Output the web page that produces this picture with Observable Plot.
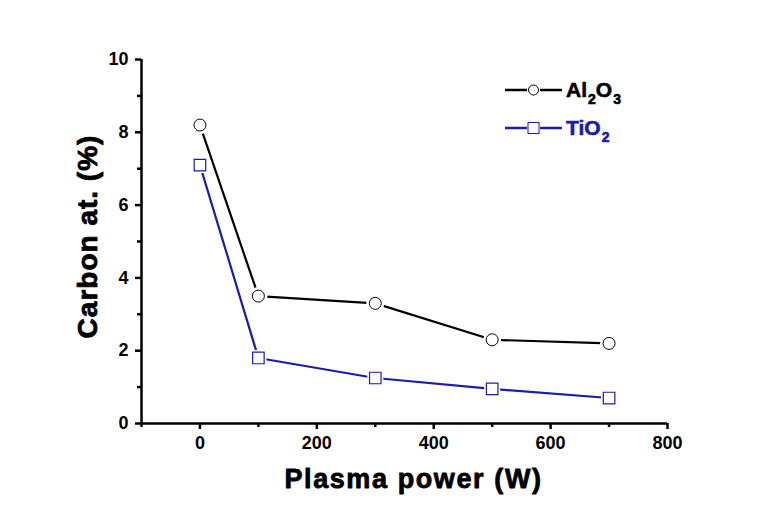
<!DOCTYPE html>
<html><head><meta charset="utf-8">
<script src="https://cdn.jsdelivr.net/npm/d3@7"></script>
<script src="https://cdn.jsdelivr.net/npm/@observablehq/plot@0.6"></script>
<style>
body{margin:0;background:#fff;}
#wrap{position:relative;width:775px;height:509px;}
#legend{position:absolute;left:0;top:0;font-family:"Liberation Sans",Arial,sans-serif;font-weight:bold;}
</style>
</head><body>
<div id="wrap"><div id="chart"></div><svg id="legend" width="775" height="509"></svg></div>
<script>
const power = [0, 100, 300, 500, 700];
const al2o3 = [8.2, 3.5, 3.3, 2.3, 2.2];
const tio2 = [7.1, 1.8, 1.25, 0.95, 0.7];
const xMajor = [0, 200, 400, 600, 800];
const xMinor = [-100, 100, 300, 500, 700];
const yMajor = [0, 2, 4, 6, 8, 10];
const yMinor = [1, 3, 5, 7, 9];
const blue = "#1c1ca6";

const dA = power.map((p, i) => ({x: p, y: al2o3[i]}));
const dT = power.map((p, i) => ({x: p, y: tio2[i]}));

const font = "'Liberation Sans', Arial, sans-serif";
const chart = Plot.plot({
  width: 775, height: 509,
  marginLeft: 141, marginTop: 59, marginBottom: 86, marginRight: 108,
  style: {fontFamily: font, fontWeight: "bold", background: "#fff", color: "#000"},
  x: {domain: [-100, 800]},
  y: {domain: [0, 10]},
  marks: [
    Plot.axisX({ticks: xMajor, tickSize: 6, tickPadding: 7, fontSize: 18, fontWeight: "bold", strokeWidth: 2.5, label: null}),
    Plot.axisX({ticks: xMinor, tickSize: 4, tickFormat: () => "", strokeWidth: 2.5, label: null}),
    Plot.axisY({ticks: yMajor, tickSize: 6, tickPadding: 7, fontSize: 18, fontWeight: "bold", strokeWidth: 2.5, label: null}),
    Plot.axisY({ticks: yMinor, tickSize: 4, tickFormat: () => "", strokeWidth: 2.5, label: null}),
    Plot.ruleY([0], {stroke: "#000", strokeWidth: 2.5}),
    Plot.ruleX([-100], {stroke: "#000", strokeWidth: 2.5}),
    Plot.line(dA, {x: "x", y: "y", stroke: "#000", strokeWidth: 2.2}),
    Plot.line(dT, {x: "x", y: "y", stroke: blue, strokeWidth: 2.2}),
    Plot.dot(dA, {x: "x", y: "y", r: 9, fill: "#fff", stroke: "none"}),
    Plot.dot(dT, {x: "x", y: "y", r: 9, fill: "#fff", stroke: "none", symbol: "square"}),
    Plot.dot(dA, {x: "x", y: "y", r: 6, fill: "#fff", stroke: "#000", strokeWidth: 1}),
    Plot.dot(dT, {x: "x", y: "y", r: 6.5, fill: "#fff", stroke: blue, strokeWidth: 1.2, symbol: "square"}),
    Plot.text(["Plasma power (W)"], {frameAnchor: "bottom", dy: 56, dx: 9, fontSize: 27, fontWeight: "bold", lineAnchor: "middle", textAnchor: "middle", fill: "#000", stroke: "#000", strokeWidth: 0.8}),
    Plot.text(["Carbon at. (%)"], {frameAnchor: "left", dx: -53, dy: -5, rotate: -90, fontSize: 28, fontWeight: "bold", lineAnchor: "middle", textAnchor: "middle", fill: "#000", stroke: "#000", strokeWidth: 0.8})
  ]
});
document.getElementById("chart").appendChild(chart);
d3.select(chart).selectAll("text").filter(function(){return this.textContent === "Plasma power (W)";}).style("letter-spacing", "1.6px");
d3.select(chart).selectAll("text").filter(function(){return this.textContent === "Carbon at. (%)";}).style("letter-spacing", "1px");

// legend
const legendItems = [
  {name: ["Al", "2", "O", "3"], color: "#000", symbol: "circle"},
  {name: ["TiO", "2"], color: blue, symbol: "square"}
];
const svg = d3.select("#legend");
legendItems.forEach((it, i) => {
  const y = 90 + i * 38;
  const g = svg.append("g").attr("transform", `translate(505,${y})`);
  g.append("line").attr("x1", 0).attr("x2", 22).attr("y1", 0).attr("y2", 0).attr("stroke", it.color).attr("stroke-width", 2.5);
  g.append("line").attr("x1", 35).attr("x2", 57).attr("y1", 0).attr("y2", 0).attr("stroke", it.color).attr("stroke-width", 2.5);
  if (it.symbol === "circle") g.append("circle").attr("cx", 28.5).attr("cy", 0).attr("r", 5).attr("fill", "#fff").attr("stroke", it.color);
  else g.append("rect").attr("x", 23).attr("y", -5.5).attr("width", 11).attr("height", 11).attr("fill", "#fff").attr("stroke", it.color);
  const t = g.append("text").attr("x", 61).attr("y", 7).attr("fill", it.color).attr("stroke", it.color).attr("stroke-width", 0.6).attr("font-size", 21);
  it.name.forEach((s, k) => {
    const sub = /^\d$/.test(s);
    t.append("tspan").attr("font-size", sub ? 14 : 21).attr("dy", sub ? 7 : (k > 0 ? -7 : 0)).attr("dx", sub ? 1 : 0).text(s);
  });
});
</script>
</body></html>
